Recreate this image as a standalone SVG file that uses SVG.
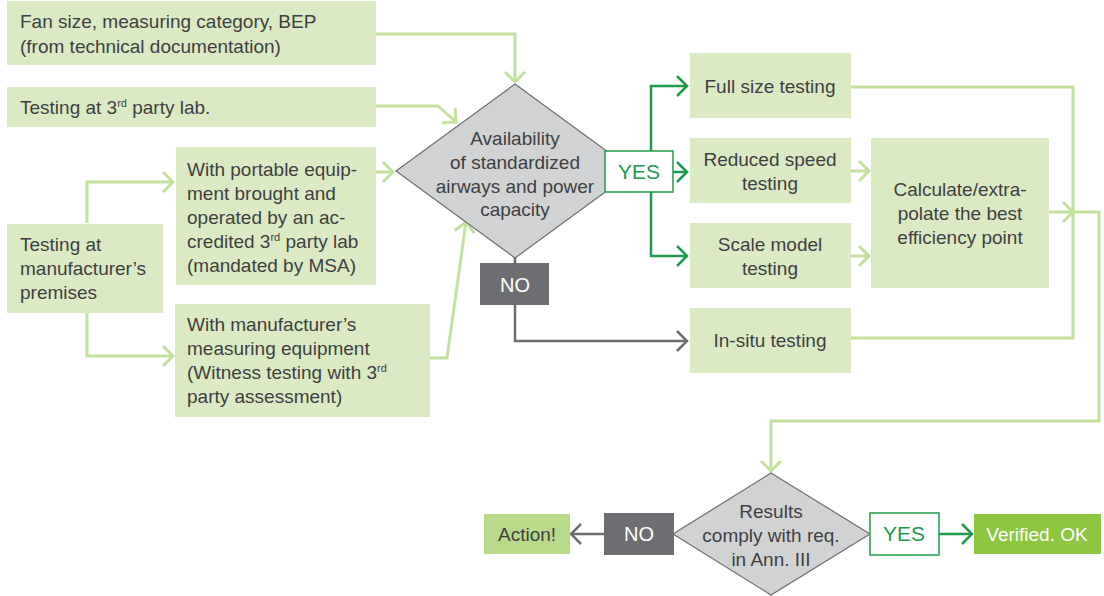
<svg xmlns="http://www.w3.org/2000/svg" width="1104" height="596" viewBox="0 0 1104 596">
<defs>
<style>
.box{fill:#dbeac3}
.dia{fill:#d1d2d4;stroke:#6d6e71;stroke-width:1.2}
.t{font-family:"Liberation Sans",Arial,sans-serif;font-size:19px;fill:#3f3f41}
.c{text-anchor:middle}
.w{fill:#ffffff}
.g{fill:#1f9a4a}
.sup{font-size:11px}
.lc{fill:none;stroke:#c4e09e;stroke-width:3}
.dc{fill:none;stroke:#1f9a4a;stroke-width:2.5}
.gc{fill:none;stroke:#6d6e71;stroke-width:2.5}
</style>
<marker id="aL" markerUnits="userSpaceOnUse" markerWidth="16" markerHeight="26" refX="12" refY="12" orient="auto" overflow="visible">
<path d="M2,2 L12,12 L2,22" fill="none" stroke="#c4e09e" stroke-width="3"/>
</marker>
<marker id="aD" markerUnits="userSpaceOnUse" markerWidth="16" markerHeight="26" refX="12" refY="12" orient="auto" overflow="visible">
<path d="M2,2 L12,12 L2,22" fill="none" stroke="#1f9a4a" stroke-width="2.5"/>
</marker>
<marker id="aG" markerUnits="userSpaceOnUse" markerWidth="16" markerHeight="26" refX="12" refY="12" orient="auto" overflow="visible">
<path d="M2,2 L12,12 L2,22" fill="none" stroke="#6d6e71" stroke-width="2.5"/>
</marker>
</defs>
<rect width="1104" height="596" fill="#ffffff"/>

<g id="connectors">
<path class="lc" d="M376,34 H515 V82" marker-end="url(#aL)"/>
<path class="lc" d="M376,106 H438 L456,122" marker-end="url(#aL)"/>
<path class="lc" d="M87,223 V182 H173" marker-end="url(#aL)"/>
<path class="lc" d="M87,312 V356 H173" marker-end="url(#aL)"/>
<path class="lc" d="M376,172 H393" marker-end="url(#aL)"/>
<path class="lc" d="M430,358 H447 L466,222" marker-end="url(#aL)"/>
<path class="gc" d="M515,257 V263"/>
<path class="gc" d="M515,305 V341 H687" marker-end="url(#aG)"/>
<path class="dc" d="M651,151 V86 H687" marker-end="url(#aD)"/>
<path class="dc" d="M673,172 H687" marker-end="url(#aD)"/>
<path class="dc" d="M651,192 V256 H687" marker-end="url(#aD)"/>
<path class="lc" d="M851,171 H869" marker-end="url(#aL)"/>
<path class="lc" d="M851,256 H869" marker-end="url(#aL)"/>
<path class="lc" d="M851,87 H1073 V338 H851"/>
<path class="lc" d="M1049,212 H1073" marker-end="url(#aL)"/>
<path class="lc" d="M1073,212 H1099 V421 H771 V471" marker-end="url(#aL)"/>
<path class="gc" d="M604,534 H571" marker-end="url(#aG)"/>
<path class="dc" d="M939,534 H972" marker-end="url(#aD)"/>
</g>

<g id="fan">
<rect class="box" x="7" y="1" width="369" height="64"/>
<text class="t" x="20" y="28">Fan size, measuring category, BEP</text>
<text class="t" x="20" y="53">(from technical documentation)</text>
</g>

<g id="lab">
<rect class="box" x="7" y="87" width="369" height="40"/>
<text class="t" x="20" y="114">Testing at 3<tspan class="sup" dy="-7">rd</tspan><tspan dy="7"> party lab.</tspan></text>
</g>

<g id="premises">
<rect class="box" x="7" y="224" width="156" height="89"/>
<text class="t" x="20" y="251">Testing at</text>
<text class="t" x="20" y="275">manufacturer’s</text>
<text class="t" x="20" y="299">premises</text>
</g>

<g id="portable">
<rect class="box" x="176" y="147" width="200" height="138"/>
<text class="t" x="187" y="176">With portable equip-</text>
<text class="t" x="187" y="200">ment brought and</text>
<text class="t" x="187" y="224">operated by an ac-</text>
<text class="t" x="187" y="248">credited 3<tspan class="sup" dy="-7">rd</tspan><tspan dy="7"> party lab</tspan></text>
<text class="t" x="187" y="272">(mandated by MSA)</text>
</g>

<g id="witness">
<rect class="box" x="175" y="304" width="255" height="113"/>
<text class="t" x="187" y="331">With manufacturer’s</text>
<text class="t" x="187" y="355">measuring equipment</text>
<text class="t" x="187" y="379">(Witness testing with 3<tspan class="sup" dy="-7">rd</tspan></text>
<text class="t" x="187" y="403">party assessment)</text>
</g>

<g id="availability">
<polygon class="dia" points="515,84 634,171 515,258 396,171"/>
<text class="t c" x="515" y="145">Availability</text>
<text class="t c" x="515" y="169">of standardized</text>
<text class="t c" x="515" y="193">airways and power</text>
<text class="t c" x="515" y="216">capacity</text>
</g>

<g id="yes1">
<rect x="605" y="151" width="68" height="41" fill="#ffffff" stroke="#1f9a4a" stroke-width="1.5"/>
<text class="t c g" x="639" y="179" style="font-size:21px">YES</text>
</g>

<g id="no1">
<rect x="480" y="263" width="69" height="42" fill="#6d6e71"/>
<text class="t c w" x="515" y="292" style="font-size:20px">NO</text>
</g>

<g id="fullsize">
<rect class="box" x="690" y="53" width="161" height="65"/>
<text class="t c" x="770" y="93">Full size testing</text>
</g>

<g id="reduced">
<rect class="box" x="690" y="138" width="161" height="65"/>
<text class="t c" x="770" y="166">Reduced speed</text>
<text class="t c" x="770" y="190">testing</text>
</g>

<g id="scale">
<rect class="box" x="690" y="223" width="161" height="65"/>
<text class="t c" x="770" y="251">Scale model</text>
<text class="t c" x="770" y="275">testing</text>
</g>

<g id="insitu">
<rect class="box" x="690" y="308" width="161" height="65"/>
<text class="t c" x="770" y="347">In-situ testing</text>
</g>

<g id="calculate">
<rect class="box" x="871" y="138" width="178" height="150"/>
<text class="t c" x="960" y="196">Calculate/extra-</text>
<text class="t c" x="960" y="220">polate the best</text>
<text class="t c" x="960" y="244">efficiency point</text>
</g>

<g id="results">
<polygon class="dia" points="771,473 870,534 771,595 673,534"/>
<text class="t c" x="771" y="518">Results</text>
<text class="t c" x="771" y="542">comply with req.</text>
<text class="t c" x="771" y="566">in Ann. III</text>
</g>

<g id="no2">
<rect x="604" y="513" width="70" height="42" fill="#6d6e71"/>
<text class="t c w" x="639" y="541" style="font-size:20px">NO</text>
</g>

<g id="action">
<rect x="484" y="514" width="86" height="40" fill="#b8d98a"/>
<text class="t c" x="527" y="541">Action!</text>
</g>

<g id="yes2">
<rect x="870" y="513" width="69" height="42" fill="#ffffff" stroke="#1f9a4a" stroke-width="1.5"/>
<text class="t c g" x="904" y="541" style="font-size:21px">YES</text>
</g>

<g id="verified">
<rect x="974" y="514" width="127" height="40" fill="#8dc63f"/>
<text class="t c w" x="1037" y="541">Verified. OK</text>
</g>
</svg>
